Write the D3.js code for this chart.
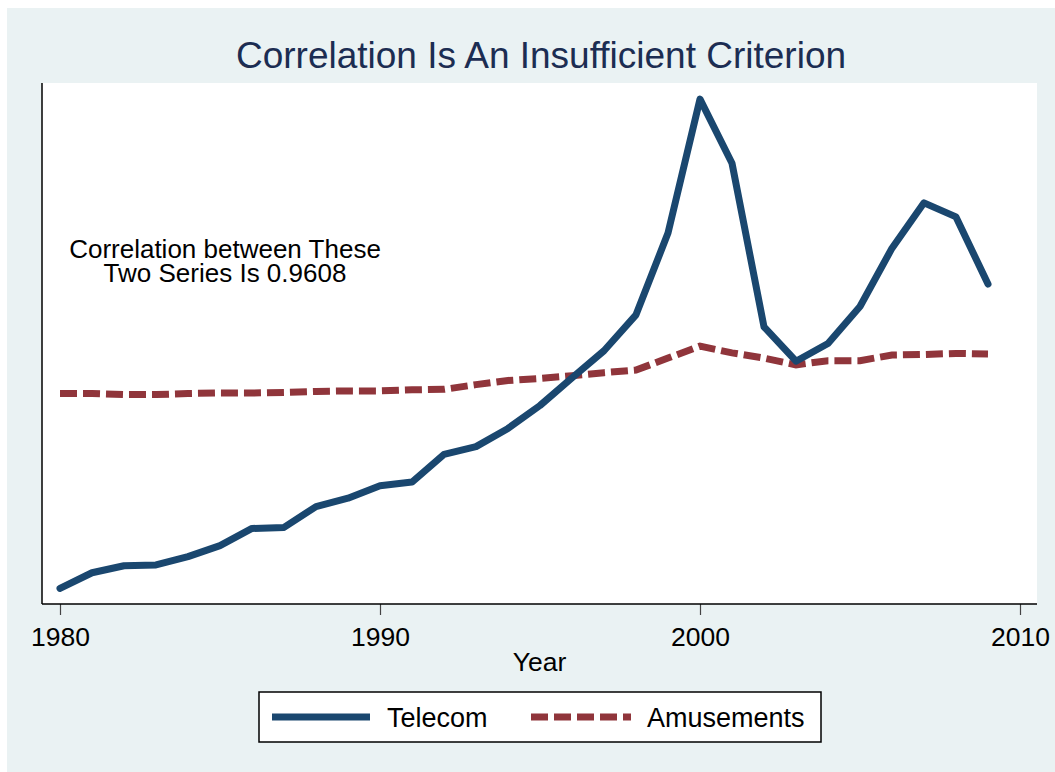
<!DOCTYPE html>
<html>
<head>
<meta charset="utf-8">
<script src="https://cdn.jsdelivr.net/npm/d3@7/dist/d3.min.js"></script>
<style>
  html, body { margin: 0; padding: 0; background: #fff; }
  svg { display: block; font-family: Arial, "Liberation Sans", sans-serif; }
</style>
</head>
<body>
<div id="chart"></div>
<script>
const width = 1055;
const height = 772;

// data (y values, arbitrary index units)
const years = d3.range(1980, 2010);
const telecom = [3.0, 6.0, 7.35, 7.5, 9.1, 11.2, 14.5, 14.7, 18.7, 20.3,
  22.7, 23.4, 28.7, 30.2, 33.7, 38.1, 43.4, 48.6, 55.5, 71.2,
  96.9, 84.6, 53.2, 46.6, 50.0, 57.1, 68.3, 77.0, 74.3, 61.4];
const amusements = [40.4, 40.4, 40.2, 40.2, 40.4, 40.5, 40.5, 40.6, 40.8, 40.9,
  40.9, 41.1, 41.2, 42.1, 42.9, 43.3, 43.8, 44.4, 44.9, 47.2,
  49.5, 48.2, 47.2, 45.9, 46.7, 46.7, 47.8, 47.9, 48.1, 48.0];
const xTicks = [1980, 1990, 2000, 2010];
const seriesNames = ['Telecom', 'Amusements'];

const plot = {left: 42, right: 1037, top: 83, bottom: 604};

const svg = d3.select('#chart').append('svg')
  .attr('width', width)
  .attr('height', height);

svg.append('rect')
  .attr('x', 7).attr('y', 8)
  .attr('width', width - 7).attr('height', height - 8)
  .attr('fill', '#eaf2f3');

svg.append('rect')
  .attr('x', plot.left).attr('y', plot.top)
  .attr('width', plot.right - plot.left).attr('height', plot.bottom - plot.top)
  .attr('fill', '#fff');

const x = d3.scaleLinear().domain([1980, 2010]).range([60, 1020]);
const y = d3.scaleLinear().domain([0, 100]).range([plot.bottom, plot.top]);

// x axis
const xAxis = svg.append('g')
  .attr('transform', `translate(0,${plot.bottom})`)
  .call(d3.axisBottom(x).tickValues(xTicks).tickFormat(d3.format('d')).tickSize(11).tickPadding(6).tickSizeOuter(0));
xAxis.select('.domain').remove();
xAxis.selectAll('.tick line').attr('stroke', '#444').attr('stroke-width', 1.2);
xAxis.selectAll('.tick text')
  .attr('font-size', 26.5).attr('fill', '#000')
  .attr('dy', null).attr('y', 42);

svg.append('line')
  .attr('x1', plot.left).attr('x2', plot.right)
  .attr('y1', plot.bottom).attr('y2', plot.bottom)
  .attr('stroke', '#000').attr('stroke-width', 1.5);
svg.append('line')
  .attr('x1', plot.left).attr('x2', plot.left)
  .attr('y1', plot.top).attr('y2', plot.bottom)
  .attr('stroke', '#000').attr('stroke-width', 1.5);

svg.append('text')
  .attr('x', (plot.left + plot.right) / 2).attr('y', 671)
  .attr('text-anchor', 'middle').attr('font-size', 26.5)
  .text('Year');

// title
svg.append('text')
  .attr('x', 541).attr('y', 68)
  .attr('text-anchor', 'middle').attr('font-size', 37)
  .attr('fill', '#1c2d52')
  .text('Correlation Is An Insufficient Criterion');

// lines
const line = d3.line()
  .x((d, i) => x(years[i]))
  .y(d => y(d));

svg.append('path')
  .datum(amusements)
  .attr('d', line)
  .attr('fill', 'none')
  .attr('stroke', '#90353b')
  .attr('stroke-width', 7)
  .attr('stroke-dasharray', '17 6');

svg.append('path')
  .datum(telecom)
  .attr('d', line)
  .attr('fill', 'none')
  .attr('stroke', '#1a476f')
  .attr('stroke-width', 7)
  .attr('stroke-linejoin', 'round')
  .attr('stroke-linecap', 'round');

// annotation
const note = svg.append('text')
  .attr('text-anchor', 'middle').attr('font-size', 26);
note.append('tspan').attr('x', 225).attr('y', 258).text('Correlation between These');
note.append('tspan').attr('x', 225).attr('y', 282).text('Two Series Is 0.9608');

// legend
const legend = svg.append('g');
legend.append('rect')
  .attr('x', 259).attr('y', 692)
  .attr('width', 562).attr('height', 50)
  .attr('fill', '#fff').attr('stroke', '#000').attr('stroke-width', 1.5);

const legendItems = [
  {name: seriesNames[0], x1: 272, x2: 370, tx: 387, color: '#1a476f', dash: null},
  {name: seriesNames[1], x1: 531, x2: 631, tx: 647, color: '#90353b', dash: '17 6'}
];
legendItems.forEach(d => {
  legend.append('line')
    .attr('x1', d.x1).attr('x2', d.x2)
    .attr('y1', 717).attr('y2', 717)
    .attr('stroke', d.color).attr('stroke-width', 7)
    .attr('stroke-dasharray', d.dash);
  legend.append('text')
    .attr('x', d.tx).attr('y', 727)
    .attr('font-size', 27)
    .text(d.name);
});
</script>
</body>
</html>
